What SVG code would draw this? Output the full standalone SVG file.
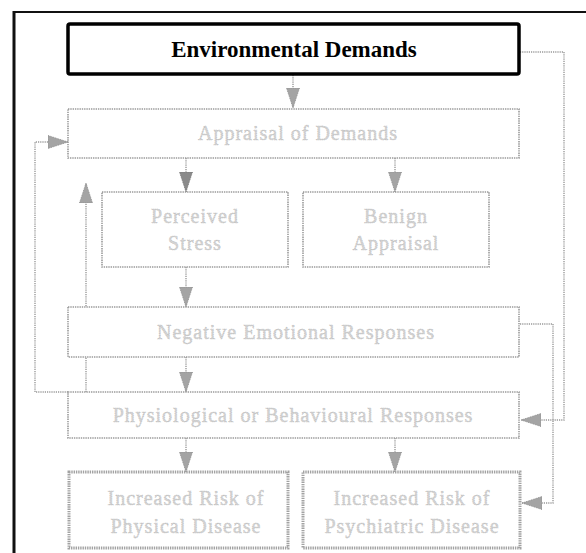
<svg xmlns="http://www.w3.org/2000/svg" width="586" height="553" viewBox="0 0 586 553">
  <defs>
    <marker id="arr" markerUnits="userSpaceOnUse" markerWidth="20" markerHeight="14" refX="20" refY="7" orient="auto">
      <path d="M0,0.5 L20,7 L0,13.5 Z" fill="#a4a4a4" stroke="#8c8c8c" stroke-width="0.8" stroke-dasharray="1 0.8"/>
    </marker>
    <marker id="arrDark" markerUnits="userSpaceOnUse" markerWidth="20" markerHeight="14" refX="20" refY="7" orient="auto">
      <path d="M0,0.5 L20,7 L0,13.5 Z" fill="#8a8a8a" stroke="#767676" stroke-width="0.8" stroke-dasharray="1 0.8"/>
    </marker>
  </defs>
  <style>
    .box { fill: #ffffff; stroke: #9a9a9a; stroke-width: 1.6; stroke-dasharray: 1.4 0.9; }
    .boxThick { fill: #ffffff; stroke: #a2a2a2; stroke-width: 3; stroke-dasharray: 1.4 0.9; }
    .lbl { font-family: "Liberation Serif", "Times New Roman", serif; font-size: 20px; letter-spacing: 1px; fill: #d4d4d4; stroke: #b4b4b4; stroke-width: 0.5; stroke-dasharray: 1 0.8; text-anchor: middle; }
    .title { font-family: "Liberation Serif", "Times New Roman", serif; font-size: 23px; font-weight: bold; fill: #000; text-anchor: middle; }
    .conn { fill: none; stroke: #999999; stroke-width: 1.4; stroke-dasharray: 1.2 1; }
  </style>

  <rect width="586" height="553" fill="#ffffff"/>

  <!-- outer frame -->
  <g id="frame" stroke="#111" fill="none">
    <line x1="13" y1="12" x2="586" y2="12" stroke-width="2"/>
    <line x1="14" y1="11" x2="14" y2="553" stroke-width="3"/>
  </g>

  <!-- connectors -->
  <g id="connectors">
    <path class="conn" d="M293,75 V108" marker-end="url(#arr)"/>
    <path class="conn" d="M186,158 V192" marker-end="url(#arrDark)"/>
    <path class="conn" d="M395,158 V192" marker-end="url(#arr)"/>
    <path class="conn" d="M186,267 V307" marker-end="url(#arr)"/>
    <path class="conn" d="M186,357 V392" marker-end="url(#arr)"/>
    <path class="conn" d="M186,438 V472" marker-end="url(#arr)"/>
    <path class="conn" d="M395,438 V472" marker-end="url(#arr)"/>
    <!-- feedback loops on the left -->
    <path class="conn" d="M68,392 H35 V142 H68" marker-end="url(#arr)"/>
    <path class="conn" d="M86,392 V183" marker-end="url(#arr)"/>
    <!-- routes on the right -->
    <path class="conn" d="M520,52 H564 V420 H521" marker-end="url(#arr)"/>
    <path class="conn" d="M520,324 H553 V503 H522" marker-end="url(#arr)"/>
  </g>

  <g id="environmental-demands">
    <rect x="68" y="24" width="451" height="50" rx="2" fill="#fff" stroke="#000" stroke-width="3.5"/>
    <text class="title" x="294" y="57">Environmental Demands</text>
  </g>

  <g id="appraisal">
    <rect class="box" x="68" y="109" width="451" height="49"/>
    <text class="lbl" x="298" y="140">Appraisal of Demands</text>
  </g>

  <g id="perceived-stress">
    <rect class="box" x="102" y="192" width="186" height="75"/>
    <text class="lbl" x="195" y="223">Perceived</text>
    <text class="lbl" x="195" y="250">Stress</text>
  </g>

  <g id="benign-appraisal">
    <rect class="box" x="303" y="192" width="186" height="75"/>
    <text class="lbl" x="396" y="223">Benign</text>
    <text class="lbl" x="396" y="250">Appraisal</text>
  </g>

  <g id="negative-emotional">
    <rect class="box" x="68" y="307" width="451" height="50"/>
    <text class="lbl" x="296" y="339">Negative Emotional Responses</text>
  </g>

  <g id="physiological-behavioural">
    <rect class="box" x="68" y="392" width="451" height="46"/>
    <text class="lbl" x="293" y="422">Physiological or Behavioural Responses</text>
  </g>

  <g id="physical-disease">
    <rect class="boxThick" x="69" y="472" width="219" height="76"/>
    <text class="lbl" x="186" y="505">Increased Risk of</text>
    <text class="lbl" x="186" y="533">Physical Disease</text>
  </g>

  <g id="psychiatric-disease">
    <rect class="boxThick" x="303" y="472" width="217" height="76"/>
    <text class="lbl" x="412" y="505">Increased Risk of</text>
    <text class="lbl" x="412" y="533">Psychiatric Disease</text>
  </g>
</svg>
